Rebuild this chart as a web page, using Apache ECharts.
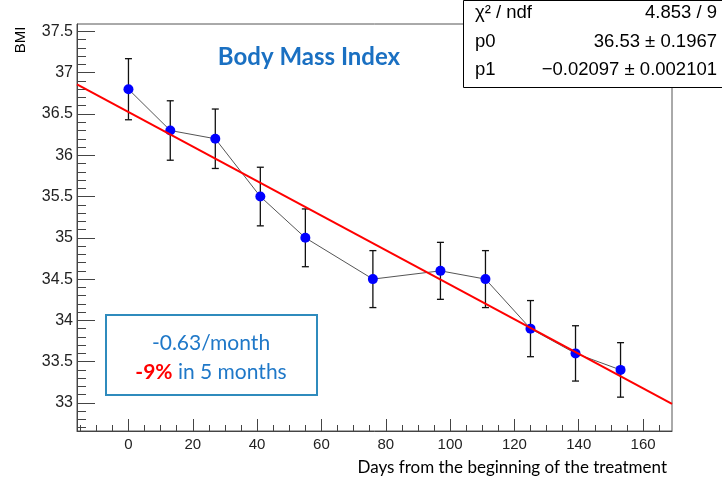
<!DOCTYPE html>
<html>
<head>
<meta charset="utf-8">
<script src="https://cdn.jsdelivr.net/npm/echarts@6/dist/echarts.min.js"></script>
<style>html,body{margin:0;padding:0;background:#fff;}#c{width:722px;height:479px;}</style>
</head>
<body>
<div id="c"></div>
<script>
// ---- data ----
var days = [0, 13, 27, 41, 55, 76, 97, 111, 125, 139, 153];
var bmi = [36.8, 36.3, 36.2, 35.5, 35.0, 34.5, 34.6, 34.5, 33.9, 33.6, 33.4];
var bmiErr = [0.37, 0.36, 0.36, 0.355, 0.35, 0.345, 0.345, 0.345, 0.34, 0.335, 0.33];
var fitLine = [[-16, 36.86], [169, 32.99]];
var xMajorTicks = [0, 20, 40, 60, 80, 100, 120, 140, 160];
var yMajorTicks = [33, 33.5, 34, 34.5, 35, 35.5, 36, 36.5, 37, 37.5];
var statNames = ['\u03c7\u00b2 / ndf', 'p0', 'p1'];
var statValues = ['4.853 / 9', '36.53 \u00b1 0.1967', '\u22120.02097 \u00b1 0.002101'];
var titleText = 'Body Mass Index';
var noteLine1 = '-0.63/month';
var noteRed = '-9%';
var noteRest = ' in 5 months';

var xMin = -16, xMax = 169, yMin = 32.66, yMax = 37.59;
var xMinor = [];
for (var v = -15; v <= 165; v += 5) { if (v % 20 !== 0) xMinor.push(v); }
var yMinor = [];
for (var k = 327; k <= 375; k++) { if (k % 5 !== 0) yMinor.push(k / 10); }

var errData = days.map(function (d, i) { return [d, bmi[i] - bmiErr[i], bmi[i] + bmiErr[i]]; });
var ptData = days.map(function (d, i) { return [d, bmi[i]]; });

var chart = echarts.init(document.getElementById('c'));
var labelFont = '"Liberation Sans", Arial, Helvetica, sans-serif';
var cal = 'Lato, "Open Sans", sans-serif';

var statsChildren = [{
  type: 'rect', shape: { x: 463.5, y: 0.5, width: 270, height: 87 },
  style: { fill: '#fff', stroke: '#000', lineWidth: 1 }
}];
var rowY = [13, 41.5, 70];
statNames.forEach(function (n, i) {
  statsChildren.push({ type: 'text', x: 475, y: rowY[i], style: { text: n, font: '18.5px ' + labelFont, fill: '#000', textAlign: 'left', textVerticalAlign: 'middle' } });
  statsChildren.push({ type: 'text', x: 717, y: rowY[i], style: { text: statValues[i], font: '18.5px ' + labelFont, fill: '#000', textAlign: 'right', textVerticalAlign: 'middle' } });
});

chart.setOption({
  animation: false,
  backgroundColor: '#fff',
  grid: { left: 77, top: 24, right: 50, bottom: 48, show: true, borderColor: '#555', borderWidth: 1, backgroundColor: 'transparent' },
  title: {
    text: titleText, left: 304, top: 40, textAlign: 'center',
    textStyle: { fontFamily: cal, fontWeight: 'bold', fontSize: 24, color: '#1a70c2' }
  },
  xAxis: [{
    type: 'value', min: xMin, max: xMax, gridIndex: 0, position: 'bottom',
    name: 'Days from the beginning of the treatment', nameLocation: 'end', nameGap: -5,
    nameTextStyle: { fontFamily: cal, fontSize: 17, color: '#000', align: 'right', verticalAlign: 'top', padding: [28, 0, 0, 0] },
    axisLine: { show: true, onZero: false, lineStyle: { color: '#444', width: 1 } },
    axisTick: { show: true, inside: true, length: 12, customValues: xMajorTicks, lineStyle: { color: '#444', width: 1 } },
    axisLabel: { show: true, customValues: xMajorTicks, margin: 6, fontFamily: labelFont, fontSize: 15, color: '#222' },
    splitLine: { show: false }
  }, {
    type: 'value', min: xMin, max: xMax, gridIndex: 0, position: 'bottom',
    axisLine: { show: false, onZero: false },
    axisTick: { show: true, inside: true, length: 6, customValues: xMinor, lineStyle: { color: '#444', width: 1 } },
    axisLabel: { show: false },
    splitLine: { show: false }
  }],
  yAxis: [{
    type: 'value', min: yMin, max: yMax, gridIndex: 0, position: 'left',
    axisLine: { show: true, onZero: false, lineStyle: { color: '#444', width: 1 } },
    axisTick: { show: true, inside: true, length: 18, customValues: yMajorTicks, lineStyle: { color: '#444', width: 1 } },
    axisLabel: { show: true, customValues: yMajorTicks, margin: 4, fontFamily: labelFont, fontSize: 16, color: '#222' },
    splitLine: { show: false }
  }, {
    type: 'value', min: yMin, max: yMax, gridIndex: 0, position: 'left',
    axisLine: { show: false, onZero: false },
    axisTick: { show: true, inside: true, length: 9, customValues: yMinor, lineStyle: { color: '#444', width: 1 } },
    axisLabel: { show: false },
    splitLine: { show: false }
  }],
  series: [{
    type: 'custom', name: 'errors', xAxisIndex: 0, yAxisIndex: 0, z: 2,
    data: errData,
    encode: { x: 0, y: [1, 2] },
    renderItem: function (params, api) {
      var x = api.value(0), lo = api.value(1), hi = api.value(2);
      var a = api.coord([x, hi]), b = api.coord([x, lo]);
      var w = 3.5;
      var st = { stroke: '#111', lineWidth: 1.3 };
      return { type: 'group', children: [
        { type: 'line', shape: { x1: a[0], y1: a[1], x2: b[0], y2: b[1] }, style: st },
        { type: 'line', shape: { x1: a[0] - w, y1: a[1], x2: a[0] + w, y2: a[1] }, style: st },
        { type: 'line', shape: { x1: b[0] - w, y1: b[1], x2: b[0] + w, y2: b[1] }, style: st }
      ] };
    }
  }, {
    type: 'line', name: 'BMI', xAxisIndex: 0, yAxisIndex: 0, z: 3,
    data: ptData,
    symbol: 'circle', symbolSize: 10, showSymbol: true,
    itemStyle: { color: '#0000ff' },
    lineStyle: { color: '#555', width: 1 }
  }, {
    type: 'line', name: 'fit', xAxisIndex: 0, yAxisIndex: 0, z: 4,
    data: fitLine, symbol: 'none',
    lineStyle: { color: '#ff0000', width: 2 }
  }],
  graphic: [
    {
      type: 'text', x: 21, y: 40, rotation: Math.PI / 2,
      style: { text: 'BMI', font: '15px ' + labelFont, fill: '#000', textAlign: 'center', textVerticalAlign: 'middle' }
    },
    {
      type: 'group', children: [
        { type: 'rect', shape: { x: 106, y: 315, width: 211, height: 80 }, style: { fill: '#fff', stroke: '#2f8bbd', lineWidth: 2 } },
        { type: 'text', x: 211, y: 343, style: { text: noteLine1, font: '21px ' + cal, fill: '#1f78c8', textAlign: 'center', textVerticalAlign: 'middle' } },
        { type: 'text', x: 211, y: 372, style: {
          text: '{r|' + noteRed + '}{b|' + noteRest + '}', textAlign: 'center', textVerticalAlign: 'middle',
          rich: {
            r: { fontFamily: cal, fontSize: 21, fontWeight: 'bold', fill: '#ff0000', color: '#ff0000' },
            b: { fontFamily: cal, fontSize: 21, fill: '#1f78c8', color: '#1f78c8' }
          }
        } }
      ]
    },
    { type: 'group', children: statsChildren, z: 100 }
  ]
});
</script>
</body>
</html>
